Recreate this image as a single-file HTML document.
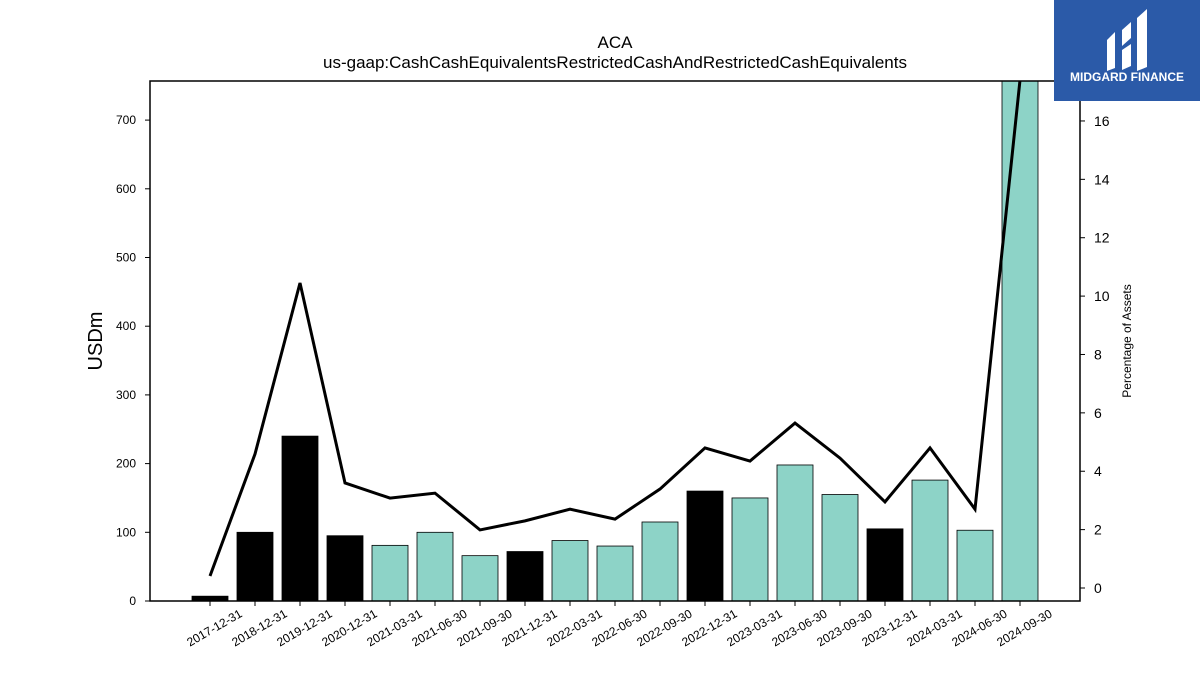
<!DOCTYPE html>
<html><head><meta charset="utf-8"><style>
body{margin:0;background:#fff;font-family:"Liberation Sans",sans-serif}
svg{display:block}
</style></head><body>
<svg width="1200" height="675" xmlns="http://www.w3.org/2000/svg">
<text x="615" y="48" text-anchor="middle" font-size="17">ACA</text>
<text x="615" y="68" text-anchor="middle" font-size="17">us-gaap:CashCashEquivalentsRestrictedCashAndRestrictedCashEquivalents</text>
<defs><clipPath id="pc"><rect x="150" y="81" width="930" height="520"/></clipPath></defs>
<g id="bars" clip-path="url(#pc)"></g>
<g id="line" clip-path="url(#pc)"></g>
<rect x="150" y="81" width="930" height="520" fill="none" stroke="#000" stroke-width="1.5"/>
<g id="axes"></g>
<text transform="translate(102,341) rotate(-90)" text-anchor="middle" font-size="20">USDm</text>
<text transform="translate(1131,341) rotate(-90)" text-anchor="middle" font-size="12">Percentage of Assets</text>
<g>
<rect x="1054" y="0" width="146" height="101" fill="#2b5aa8"/>
<path d="M1107 40 l8 -8 v36 l-8 3 z M1122 30 l9 -8 v16 l-9 8 z M1122 50 l9 -6 v22 l-9 4 z M1137 18 l10 -9 v58 l-10 4 z" fill="#fff"/>
<text x="1127" y="81" text-anchor="middle" font-size="12" font-weight="bold" fill="#fff">MIDGARD FINANCE</text>
</g>
</svg>
<script>
const categories=["2017-12-31","2018-12-31","2019-12-31","2020-12-31","2021-03-31","2021-06-30","2021-09-30","2021-12-31","2022-03-31","2022-06-30","2022-09-30","2022-12-31","2023-03-31","2023-06-30","2023-09-30","2023-12-31","2024-03-31","2024-06-30","2024-09-30"];
const cashValues=[7,100,240,95,81,100,66,72,88,80,115,160,150,198,155,105,176,103,800];
const pctValues=[0.41,4.59,10.45,3.6,3.08,3.25,1.99,2.3,2.7,2.36,3.39,4.8,4.35,5.65,4.45,2.95,4.8,2.7,17.4];
const leftTicks=[0,100,200,300,400,500,600,700];
const rightTicks=[0,2,4,6,8,10,12,14,16];
const NS="http://www.w3.org/2000/svg";
const xS=i=>210+i*45;
const yL=v=>601-v*0.687;
const yR=v=>588-v*29.19;
function mk(t,a,p){const e=document.createElementNS(NS,t);for(const k in a)e.setAttribute(k,a[k]);p.appendChild(e);return e;}
const bars=document.getElementById('bars'),line=document.getElementById('line'),axes=document.getElementById('axes');
cashValues.forEach((v,i)=>{
 const yr=categories[i].endsWith('12-31');
 const r=mk('rect',{x:xS(i)-18,y:yL(v),width:36,height:601-yL(v),fill:yr?'#000':'#8dd3c7',stroke:'#000','stroke-width':0.8},bars);
 
 
});
const pl=mk('polyline',{points:pctValues.map((v,i)=>xS(i)+','+yR(v)).join(' '),fill:'none',stroke:'#000','stroke-width':3},line);


leftTicks.forEach(t=>{
 mk('line',{x1:145,x2:150,y1:yL(t),y2:yL(t),stroke:'#000'},axes);
 const tx=mk('text',{x:136,y:yL(t)+4,'text-anchor':'end','font-size':12},axes);tx.textContent=t;
 
 
});
rightTicks.forEach(t=>{
 mk('line',{x1:1080,x2:1085,y1:yR(t),y2:yR(t),stroke:'#000'},axes);
 const tx=mk('text',{x:1094,y:yR(t)+5,'font-size':14},axes);tx.textContent=t;
 
 
});
categories.forEach((c,i)=>{
 mk('line',{x1:xS(i),x2:xS(i),y1:601,y2:606,stroke:'#000'},axes);
 const tx=mk('text',{transform:`translate(${xS(i)+33},${616}) rotate(-30)`,'text-anchor':'end','font-size':12},axes);tx.textContent=c;
 
 
});
</script>
</body></html>
